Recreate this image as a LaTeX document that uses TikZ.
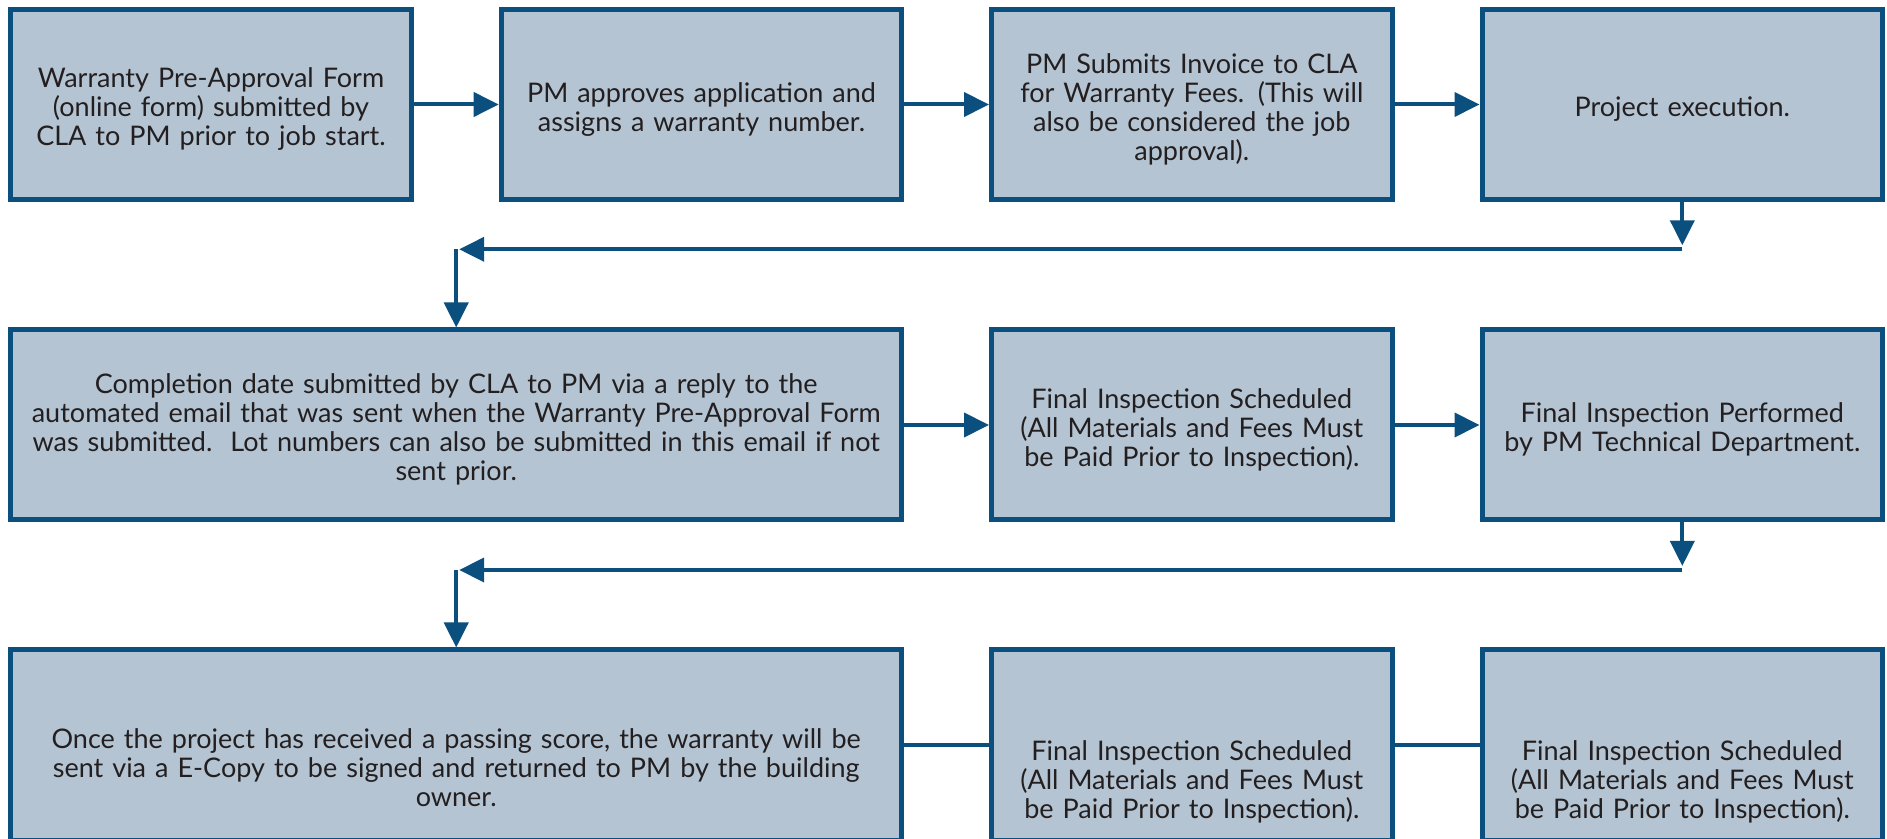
\documentclass[tikz,border=0pt]{standalone}
\usepackage{fontspec}
\setmainfont{Lato}
\usetikzlibrary{arrows.meta}
\definecolor{pmblue}{HTML}{0A4F7E}
\definecolor{pmfill}{HTML}{B4C4D2}
\definecolor{pmtext}{HTML}{231F20}
\tikzset{
  drop/.style = {execute at begin node={\rule{0pt}{#1}}},
  stepbox/.style = {
    draw=pmblue, fill=pmfill, line width=2.5pt, text=pmtext,
    minimum width=200.3pt, minimum height=95pt, inner sep=0pt,
    text width=190pt, align=center, drop=14.5pt,
    font=\fontsize{13.5}{14.5}\selectfont
  },
  widebox/.style = {stepbox, minimum width=445.3pt, text width=435pt},
  link/.style = {pmblue, line width=2pt},
  arr/.style = {link, -{Triangle[length=12.5pt,width=12pt]}}
}

\begin{document}
\begin{tikzpicture}[x=0.5pt,y=-0.5pt]
  \useasboundingbox (0,0) rectangle (1887,839);
  % first row
  \node[stepbox] (b1) at (211,104.5) {Warranty Pre-Approval Form\\(online form) submitted by\\CLA to PM prior to job start.};
  \node[stepbox] (b2) at (701.5,104.5) {PM approves application and\\assigns a warranty number.};
  \node[stepbox] (b3) at (1191.8,104.5) {PM Submits Invoice to CLA\\for Warranty Fees. (This will\\also be considered the job\\approval).};
  \node[stepbox] (b4) at (1682.3,104.5) {Project execution.};
  \draw[arr] (b1) -- (b2);
  \draw[arr] (b2) -- (b3);
  \draw[arr] (b3) -- (b4);
  % second row
  \node[widebox] (b5) at (456.2,425) {Completion date submitted by CLA to PM via a reply to the\\automated email that was sent when the Warranty Pre-Approval Form\\was submitted.\ \ Lot numbers can also be submitted in this email if not\\sent prior.};
  \node[stepbox] (b6) at (1191.8,425) {Final Inspection Scheduled\\(All Materials and Fees Must\\be Paid Prior to Inspection).};
  \node[stepbox] (b7) at (1682.3,425) {Final Inspection Performed\\by PM Technical Department.};
  \draw[arr] (b5) -- (b6);
  \draw[arr] (b6) -- (b7);
  % back to the left, first turn
  \coordinate (f1) at (1682.3,249.3);
  \coordinate (g1) at (456.2,249.3);
  \draw[arr] (b4) -- ([yshift=2pt]f1);
  \draw[arr] (f1) -- ([xshift=1.5pt]g1);
  \draw[arr] (g1) -- (b5.north);
  % third row
  \node[widebox, drop=32.5pt] (b8) at (456.2,745) {Once the project has received a passing score, the warranty will be\\sent via a E-Copy to be signed and returned to PM by the building\\owner.};
  \node[stepbox, drop=46.5pt] (b9) at (1191.8,745) {Final Inspection Scheduled\\(All Materials and Fees Must\\be Paid Prior to Inspection).};
  \node[stepbox, drop=46.5pt] (b10) at (1682.3,745) {Final Inspection Scheduled\\(All Materials and Fees Must\\be Paid Prior to Inspection).};
  \draw[link] (b8) -- (b9);
  \draw[link] (b9) -- (b10);
  % back to the left, second turn
  \coordinate (f2) at (1682.3,570);
  \coordinate (g2) at (456.2,570);
  \draw[arr] (b7) -- ([yshift=2pt]f2);
  \draw[arr] (f2) -- ([xshift=1.5pt]g2);
  \draw[arr] (g2) -- (b8.north);
\end{tikzpicture}
\end{document}
